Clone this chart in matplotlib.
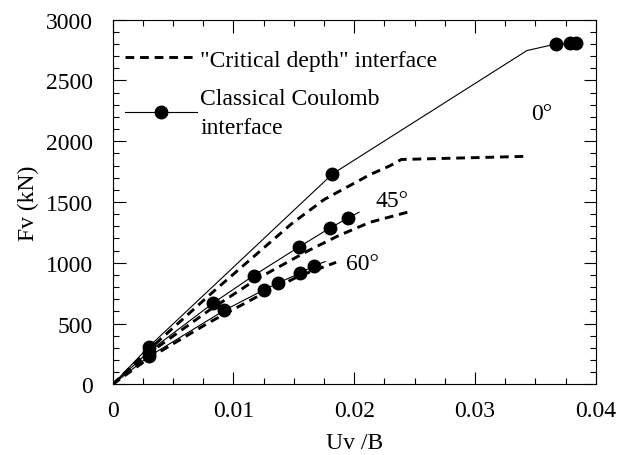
import numpy as np
import matplotlib.pyplot as plt
from matplotlib.ticker import MultipleLocator

plt.rcParams['font.family'] = ['Liberation Serif', 'DejaVu Serif']

# classical Coulomb interface (solid + dots)
c0_x = [0, 0.003, 0.0182, 0.0343, 0.0367, 0.0379, 0.0384]
c0_y = [0, 310, 1731, 2746, 2800, 2805, 2805]
c0_marks = [1, 2, 4, 5, 6]

c45_x = [0, 0.003, 0.0083, 0.01166, 0.01539, 0.01796, 0.01945, 0.0204]
c45_y = [0, 270, 667, 894, 1128, 1284, 1366, 1416]
c45_marks = [1, 2, 3, 4, 5, 6]

c60_x = [0, 0.003, 0.00925, 0.0125, 0.0137, 0.0155, 0.0167, 0.0176]
c60_y = [0, 230, 609, 776, 834, 914, 976, 1010]
c60_marks = [1, 2, 3, 4, 5, 6]

# "critical depth" interface (dashed)
d0_x = [0, 0.003, 0.0083, 0.0148, 0.0175, 0.0213, 0.0230, 0.0239, 0.0340]
d0_y = [0, 285, 760, 1320, 1520, 1725, 1800, 1850, 1875]

d45_x = [0, 0.003, 0.008, 0.012, 0.0162, 0.0187, 0.0213, 0.0244]
d45_y = [0, 255, 610, 870, 1100, 1223, 1333, 1416]

d60_x = [0, 0.003, 0.008, 0.0125, 0.0144, 0.0155, 0.0174, 0.0185]
d60_y = [0, 215, 510, 750, 840, 894, 963, 1004]

fs = 17

fig = plt.figure(figsize=(6.17, 4.56), dpi=100)
ax = fig.add_axes([0.1827, 0.155, 0.7828, 0.7996])

dash = (0, (3, 2))
ax.plot(d0_x, d0_y, color='black', lw=2.1, linestyle=dash, label='"Critical depth" interface')
ax.plot(d45_x, d45_y, color='black', lw=2.1, linestyle=dash)
ax.plot(d60_x, d60_y, color='black', lw=2.1, linestyle=dash)

ax.plot(c0_x, c0_y, color='black', lw=0.8, marker='o', ms=9, markevery=c0_marks,
        label='Classical Coulomb\ninterface')
ax.plot(c45_x, c45_y, color='black', lw=0.8, marker='o', ms=9, markevery=c45_marks)
ax.plot(c60_x, c60_y, color='black', lw=0.8, marker='o', ms=9, markevery=c60_marks)

ax.text(0.0355, 2225, '0°', fontsize=fs, ha='center', va='center')
ax.text(0.0231, 1511, '45°', fontsize=fs, ha='center', va='center')
ax.text(0.0207, 990, '60°', fontsize=fs, ha='center', va='center')

ax.set_xlim(0, 0.04)
ax.set_ylim(0, 3000)
ax.xaxis.set_major_locator(MultipleLocator(0.01))
ax.xaxis.set_minor_locator(MultipleLocator(0.0025))
ax.yaxis.set_major_locator(MultipleLocator(500))
ax.yaxis.set_minor_locator(MultipleLocator(100))
ax.set_xticks([0, 0.01, 0.02, 0.03, 0.04])
ax.set_xticklabels(['0', '0.01', '0.02', '0.03', '0.04'])
ax.tick_params(which='both', direction='in', top=True, right=True, labelsize=fs)
ax.tick_params(which='major', length=9, width=0.8)
ax.tick_params(which='minor', length=4.5, width=0.8)
ax.tick_params(axis='x', which='major', pad=11)
ax.tick_params(axis='y', which='major', pad=14)

ax.set_xlabel('Uv /B', fontsize=fs, labelpad=8)
ax.set_ylabel('Fv (kN)', fontsize=fs, labelpad=5)

leg = ax.legend(loc='upper left', bbox_to_anchor=(0.01, 0.939), fontsize=fs,
                frameon=False, handlelength=3.05, handletextpad=0.15,
                borderaxespad=0, labelspacing=0.72, borderpad=0.3)
leg.get_texts()[1].set_linespacing(1.5)

fig.savefig('out.png', dpi=100)
